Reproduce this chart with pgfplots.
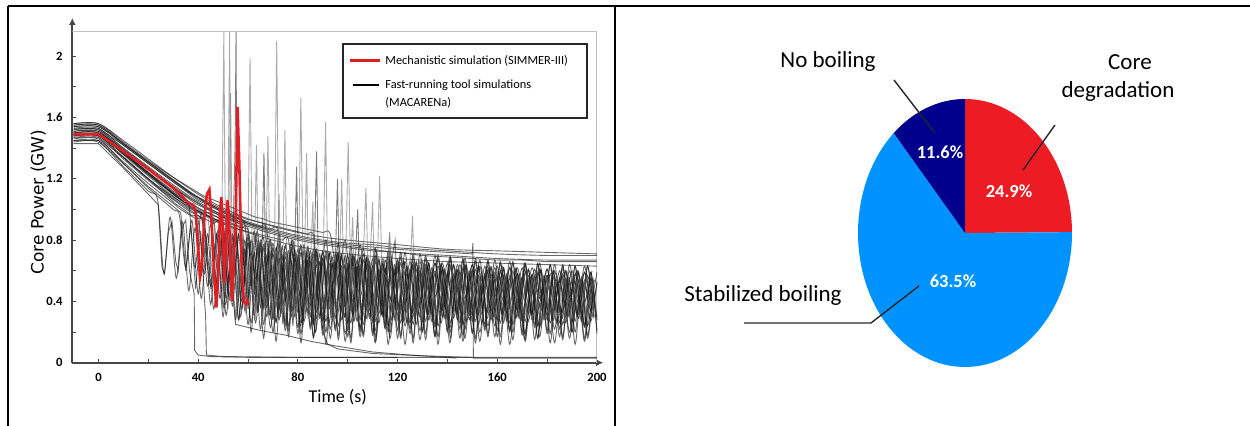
\documentclass[border=0pt]{standalone}
\usepackage{fontspec}
\setmainfont{Carlito}
\newfontfamily\dejavu{DejaVu Sans}
\usepackage{pgfplots}
\pgfplotsset{compat=1.18}
\usepackage{pgfplotstable}
\usetikzlibrary{arrows.meta}

\definecolor{simred}{RGB}{225,30,35}
\definecolor{pieRed}{RGB}{237,28,36}
\definecolor{pieNavy}{RGB}{0,0,140}
\definecolor{pieBlue}{RGB}{0,146,255}
\definecolor{axgray}{RGB}{70,70,70}

\pgfplotsset{
  run/.style={black!90, opacity=0.65, line width=0.45pt, smooth},
  spike/.style={black!55, opacity=0.6, line width=0.45pt},
}

% MACARENa runs, 2.5 s grid
\pgfplotstableread{
t a1 a2 a3 a4 a5 a6
-10 1.46 1.52 1.54 1.48 1.55 1.50
0 1.46 1.52 1.54 1.48 1.55 1.50
10 1.30 1.38 1.42 1.34 1.43 1.37
20 1.14 1.24 1.30 1.20 1.31 1.23
30 1.00 1.10 1.18 1.05 1.19 1.10
32.5 0.96 1.07 1.15 1.02 1.16 1.07
35 0.62 1.04 1.12 0.99 1.13 1.04
37.5 0.93 1.01 1.09 0.96 1.10 1.01
40 0.45 0.99 1.06 0.93 1.08 0.99
42.5 0.88 0.97 1.04 0.58 1.05 0.97
45 0.38 0.95 1.02 0.90 1.03 0.95
47.5 0.84 0.52 1.00 0.49 1.01 0.93
50 0.30 0.90 0.98 0.86 0.99 0.91
52.5 0.80 0.41 0.96 0.44 0.97 0.55
55 0.28 0.86 0.94 0.82 0.95 0.88
57.5 0.76 0.35 0.92 0.40 0.93 0.48
60 0.25 0.82 0.45 0.78 0.91 0.84
62.5 0.72 0.31 0.86 0.37 0.90 0.45
65 0.22 0.78 0.36 0.74 0.89 0.80
67.5 0.70 0.30 0.80 0.36 0.87 0.43
70 0.20 0.75 0.29 0.71 0.48 0.78
72.5 0.68 0.28 0.77 0.35 0.84 0.42
75 0.24 0.72 0.26 0.69 0.40 0.76
77.5 0.66 0.30 0.75 0.34 0.80 0.44
80 0.19 0.70 0.23 0.68 0.33 0.74
82.5 0.67 0.27 0.73 0.36 0.77 0.41
85 0.22 0.69 0.24 0.66 0.30 0.73
87.5 0.64 0.29 0.72 0.33 0.74 0.43
90 0.18 0.68 0.22 0.65 0.27 0.72
92.5 0.65 0.26 0.71 0.35 0.72 0.40
95 0.21 0.66 0.23 0.64 0.29 0.71
97.5 0.63 0.28 0.70 0.34 0.71 0.42
100 0.17 0.65 0.21 0.63 0.26 0.70
102.5 0.62 0.27 0.69 0.33 0.70 0.41
105 0.20 0.64 0.22 0.62 0.28 0.69
107.5 0.64 0.29 0.68 0.35 0.69 0.39
110 0.18 0.63 0.20 0.61 0.27 0.68
112.5 0.61 0.26 0.67 0.32 0.68 0.41
115 0.22 0.62 0.23 0.61 0.25 0.67
117.5 0.62 0.28 0.67 0.34 0.67 0.40
120 0.16 0.62 0.21 0.60 0.28 0.67
122.5 0.60 0.27 0.66 0.33 0.66 0.42
125 0.19 0.61 0.22 0.59 0.26 0.66
127.5 0.61 0.25 0.65 0.35 0.66 0.40
130 0.21 0.60 0.20 0.59 0.27 0.66
132.5 0.59 0.28 0.65 0.32 0.65 0.39
135 0.17 0.60 0.23 0.58 0.25 0.65
137.5 0.60 0.26 0.64 0.34 0.65 0.41
140 0.20 0.59 0.21 0.58 0.28 0.65
142.5 0.58 0.29 0.64 0.33 0.64 0.40
145 0.16 0.59 0.22 0.57 0.26 0.64
147.5 0.59 0.27 0.63 0.35 0.64 0.42
150 0.19 0.58 0.20 0.57 0.27 0.64
152.5 0.57 0.25 0.63 0.32 0.63 0.39
155 0.21 0.58 0.23 0.56 0.25 0.63
157.5 0.58 0.28 0.62 0.34 0.63 0.41
160 0.17 0.57 0.21 0.56 0.28 0.63
162.5 0.57 0.26 0.62 0.33 0.62 0.40
165 0.20 0.57 0.22 0.55 0.26 0.62
167.5 0.56 0.29 0.61 0.35 0.62 0.42
170 0.18 0.56 0.20 0.55 0.27 0.62
172.5 0.57 0.27 0.61 0.32 0.61 0.39
175 0.15 0.56 0.23 0.54 0.25 0.61
177.5 0.55 0.25 0.60 0.34 0.61 0.41
180 0.19 0.55 0.21 0.54 0.28 0.61
182.5 0.56 0.28 0.60 0.33 0.60 0.40
185 0.17 0.55 0.22 0.53 0.26 0.60
187.5 0.55 0.26 0.60 0.35 0.60 0.42
190 0.20 0.54 0.20 0.53 0.27 0.60
192.5 0.54 0.29 0.59 0.32 0.60 0.39
195 0.16 0.54 0.23 0.52 0.25 0.59
197.5 0.55 0.27 0.59 0.34 0.59 0.41
200 0.19 0.53 0.21 0.52 0.28 0.59
}\runsA

% runs on the shifted grid
\pgfplotstableread{
t b1 b2 b3 b4 b5 b6
-10 1.44 1.51 1.53 1.55 1.47 1.49
0 1.44 1.51 1.53 1.55 1.47 1.49
10 1.28 1.37 1.40 1.43 1.33 1.36
20 1.12 1.23 1.27 1.31 1.19 1.22
23.75 1.06 1.18 1.22 1.27 1.14 1.17
26.25 0.58 1.15 1.19 1.24 1.11 1.13
28.75 0.95 1.12 1.16 1.21 1.08 1.10
31.25 0.55 1.09 1.13 1.18 1.05 1.07
33.75 0.92 1.06 1.10 1.15 1.02 1.04
36.25 0.47 1.03 1.07 1.12 0.99 1.01
38.75 0.88 0.62 1.04 1.09 0.97 0.99
41.25 0.42 0.98 1.02 1.07 0.95 0.97
43.75 0.84 0.50 1.00 1.05 0.93 0.95
46.25 0.35 0.93 0.98 1.03 0.91 0.93
48.75 0.80 0.42 0.96 1.01 0.89 0.91
51.25 0.31 0.88 0.94 0.99 0.42 0.90
53.75 0.77 0.37 0.93 0.97 0.84 0.88
56.25 0.28 0.84 0.91 0.96 0.28 0.87
58.75 0.74 0.34 0.90 0.94 0.80 0.86
61.25 0.26 0.80 0.50 0.93 0.20 0.85
63.75 0.72 0.33 0.86 0.92 0.76 0.84
66.25 0.25 0.77 0.35 0.91 0.16 0.83
68.75 0.70 0.31 0.80 0.90 0.73 0.82
71.25 0.27 0.75 0.26 0.89 0.14 0.81
73.75 0.69 0.32 0.76 0.88 0.70 0.80
76.25 0.24 0.73 0.21 0.87 0.17 0.80
78.75 0.68 0.30 0.74 0.86 0.68 0.45
81.25 0.26 0.72 0.19 0.85 0.13 0.77
83.75 0.67 0.33 0.72 0.84 0.67 0.34
86.25 0.25 0.71 0.17 0.83 0.16 0.74
88.75 0.66 0.31 0.71 0.52 0.65 0.29
91.25 0.27 0.70 0.20 0.80 0.12 0.73
93.75 0.65 0.32 0.69 0.42 0.64 0.28
96.25 0.24 0.69 0.18 0.78 0.15 0.72
98.75 0.64 0.30 0.68 0.37 0.63 0.30
101.25 0.26 0.68 0.16 0.76 0.13 0.71
103.75 0.63 0.33 0.67 0.36 0.62 0.27
106.25 0.25 0.67 0.19 0.75 0.17 0.71
108.75 0.63 0.31 0.66 0.34 0.61 0.29
111.25 0.27 0.66 0.17 0.74 0.14 0.70
113.75 0.62 0.32 0.65 0.37 0.60 0.31
116.25 0.24 0.66 0.20 0.73 0.12 0.70
118.75 0.61 0.30 0.64 0.35 0.59 0.28
121.25 0.26 0.65 0.18 0.72 0.16 0.69
123.75 0.61 0.33 0.63 0.33 0.58 0.26
126.25 0.25 0.64 0.16 0.71 0.13 0.69
128.75 0.60 0.31 0.63 0.36 0.58 0.30
131.25 0.27 0.64 0.19 0.70 0.15 0.68
133.75 0.59 0.32 0.62 0.34 0.57 0.27
136.25 0.24 0.63 0.17 0.70 0.12 0.68
138.75 0.59 0.30 0.61 0.37 0.56 0.29
141.25 0.26 0.62 0.20 0.69 0.16 0.67
143.75 0.58 0.33 0.61 0.35 0.56 0.31
146.25 0.25 0.62 0.18 0.68 0.14 0.67
148.75 0.58 0.31 0.60 0.33 0.55 0.28
151.25 0.27 0.61 0.16 0.68 0.13 0.66
153.75 0.57 0.32 0.59 0.36 0.55 0.26
156.25 0.24 0.61 0.19 0.67 0.17 0.66
158.75 0.57 0.30 0.59 0.34 0.54 0.30
161.25 0.26 0.60 0.17 0.66 0.12 0.65
163.75 0.56 0.33 0.58 0.37 0.54 0.27
166.25 0.25 0.60 0.20 0.66 0.15 0.65
168.75 0.56 0.31 0.58 0.35 0.53 0.29
171.25 0.27 0.59 0.18 0.65 0.14 0.64
173.75 0.55 0.32 0.57 0.33 0.53 0.31
176.25 0.24 0.59 0.16 0.65 0.16 0.64
178.75 0.55 0.30 0.57 0.36 0.52 0.28
181.25 0.26 0.58 0.19 0.64 0.13 0.64
183.75 0.55 0.33 0.56 0.34 0.52 0.26
186.25 0.25 0.58 0.17 0.64 0.15 0.63
188.75 0.54 0.31 0.56 0.37 0.52 0.30
191.25 0.27 0.58 0.20 0.63 0.12 0.63
193.75 0.54 0.32 0.56 0.35 0.51 0.27
196.25 0.24 0.57 0.18 0.63 0.16 0.63
198.75 0.54 0.30 0.55 0.33 0.51 0.29
}\runsB

% runs on a 3 s grid
\pgfplotstableread{
t c1 c2 c3 c4 c5
-10 1.45 1.50 1.52 1.56 1.48
0 1.45 1.50 1.52 1.56 1.48
10 1.31 1.37 1.39 1.44 1.34
20 1.17 1.24 1.26 1.32 1.20
30 1.04 1.11 1.14 1.21 1.08
33 1.00 1.08 1.11 1.18 1.05
36 0.97 1.05 1.08 1.15 1.02
39 0.94 1.02 1.05 1.12 0.99
42 0.91 0.99 1.02 1.09 0.97
45 0.50 0.97 1.00 1.07 0.95
48 0.86 0.95 0.98 1.05 0.93
51 0.38 0.93 0.96 1.03 0.91
54 0.82 0.55 0.94 1.01 0.90
57 0.30 0.88 0.92 0.99 0.88
60 0.78 0.42 0.91 0.97 0.87
63 0.26 0.83 0.89 0.95 0.55
66 0.75 0.36 0.88 0.94 0.82
69 0.23 0.80 0.87 0.92 0.45
72 0.73 0.33 0.86 0.91 0.78
75 0.21 0.77 0.45 0.90 0.41
78 0.71 0.34 0.80 0.89 0.76
81 0.24 0.75 0.30 0.88 0.43
84 0.70 0.32 0.76 0.87 0.74
87 0.20 0.73 0.20 0.86 0.40
90 0.68 0.35 0.73 0.85 0.72
93 0.22 0.72 0.16 0.84 0.42
96 0.67 0.33 0.71 0.55 0.71
99 0.19 0.70 0.14 0.80 0.39
102 0.66 0.31 0.69 0.40 0.70
105 0.23 0.69 0.17 0.77 0.43
108 0.65 0.34 0.68 0.33 0.69
111 0.21 0.68 0.13 0.75 0.40
114 0.64 0.32 0.66 0.30 0.68
117 0.20 0.67 0.16 0.73 0.42
120 0.63 0.35 0.65 0.31 0.67
123 0.24 0.66 0.12 0.72 0.38
126 0.62 0.33 0.64 0.29 0.66
129 0.21 0.66 0.15 0.71 0.41
132 0.62 0.31 0.63 0.32 0.66
135 0.19 0.65 0.17 0.70 0.43
138 0.61 0.34 0.62 0.30 0.65
141 0.23 0.64 0.13 0.69 0.39
144 0.60 0.32 0.61 0.28 0.64
147 0.22 0.64 0.16 0.68 0.42
150 0.60 0.35 0.61 0.31 0.64
153 0.20 0.63 0.14 0.67 0.40
156 0.59 0.33 0.60 0.29 0.63
159 0.24 0.62 0.17 0.67 0.43
162 0.58 0.31 0.59 0.32 0.63
165 0.21 0.62 0.12 0.66 0.38
168 0.58 0.34 0.58 0.30 0.62
171 0.19 0.61 0.15 0.65 0.41
174 0.57 0.32 0.58 0.28 0.62
177 0.23 0.61 0.17 0.65 0.42
180 0.57 0.35 0.57 0.31 0.61
183 0.22 0.60 0.13 0.64 0.39
186 0.56 0.33 0.57 0.29 0.61
189 0.20 0.60 0.16 0.64 0.43
192 0.56 0.31 0.56 0.32 0.60
195 0.24 0.59 0.14 0.63 0.40
198 0.55 0.34 0.56 0.30 0.60
}\runsC

% pie shares (%)
\def\pCore{24.9}
\def\pStab{63.5}
\def\pNone{11.6}
\pgfmathsetmacro\angA{90-3.6*\pCore}
\pgfmathsetmacro\angB{\angA-3.6*\pStab}
\pgfmathsetmacro\angC{\angB-3.6*\pNone}

\begin{document}
\begin{tikzpicture}[x=0.5pt,y=0.5pt]

% table frame
\draw[line width=1pt] (8,420) -- (1250,420);
\draw[line width=1pt] (8,420) -- (8,0);
\draw[line width=0.6pt] (615,420) -- (615,0);
\draw[line width=1.2pt] (615,18) -- (615,0);

\begin{axis}[
  at={(36.15pt,31.65pt)}, anchor=south west,
  scale only axis, width=265.45pt, height=172.35pt,
  xmin=-10.5, xmax=202.5, ymin=0, ymax=2.25,
  axis x line=bottom, axis y line=left,
  axis line style={axgray, line width=0.9pt, -{Latex[length=3.5pt,width=3.5pt]}},
  tick align=inside, major tick length=2pt, minor tick length=2pt,
  tick style={axgray, line width=0.5pt},
  xtick={0,40,80,120,160,200}, minor xtick={20,60,100,140,180},
  ytick={0,0.4,0.8,1.2,1.6,2}, minor ytick={0.2,0.6,1,1.4,1.8},
  /pgf/number format/assume math mode=true,
  tick label style={font=\fontsize{6.3}{7}\selectfont\bfseries},
  xticklabel style={yshift=-1.5pt},
  yticklabel style={xshift=-1.3pt},
  xlabel={Time (s)},
  ylabel={Core Power (GW)},
  x label style={at={(axis description cs:0.5,0)}, anchor=center, yshift=-17.2pt,
    font=\fontsize{9}{10}\selectfont},
  y label style={at={(axis description cs:0,0.466)}, anchor=center, yshift=17pt,
    font=\dejavu\fontsize{8.5}{10}\selectfont},
]
\draw[black!25, line width=0.5pt] (axis cs:-10.5,2.16) -- (axis cs:200,2.16) -- (axis cs:200,0);

\pgfplotsinvokeforeach{a1,a2,a3,a4,a5,a6}{\addplot[run] table[x=t,y=#1]{\runsA};}
\pgfplotsinvokeforeach{b1,b2,b3,b4,b5,b6}{\addplot[run] table[x=t,y=#1]{\runsB};}
\pgfplotsinvokeforeach{c1,c2,c3,c4,c5}{\addplot[run] table[x=t,y=#1]{\runsC};}

% runs that stay smooth
\addplot[run] coordinates {(-10,1.56)(0,1.56)(10,1.45)(20,1.33)(30,1.21)(40,1.10)(50,1.01)(60,0.94)(70,0.89)(80,0.85)(90,0.82)(100,0.80)(120,0.77)(140,0.74)(160,0.73)(180,0.72)(200,0.71)};
\addplot[run, sharp plot] coordinates {(-10,1.53)(0,1.53)(10,1.42)(20,1.30)(30,1.18)(40,1.07)(50,0.98)(60,0.91)(70,0.86)(80,0.82)(90,0.79)(100,0.77)(120,0.74)(140,0.72)(150,0.71)(150.2,0.78)(150.4,0.03)(200,0.03)};
\addplot[run] coordinates {(-10,1.50)(0,1.50)(10,1.39)(20,1.27)(30,1.15)(40,1.04)(50,0.95)(60,0.89)(70,0.84)(80,0.80)(90,0.77)(100,0.75)(110,0.73)(120,0.72)(130,0.70)(140,0.69)(150,0.68)(160,0.67)(170,0.67)(180,0.66)(190,0.66)(200,0.66)};
\addplot[run] coordinates {(-10,1.48)(0,1.48)(10,1.36)(20,1.23)(30,1.10)(40,0.99)(50,0.91)(60,0.85)(70,0.80)(80,0.76)(90,0.73)(100,0.71)(120,0.68)(140,0.66)(160,0.65)(180,0.64)(200,0.63)};
\addplot[run] coordinates {(-10,1.54)(0,1.54)(10,1.43)(20,1.31)(30,1.19)(40,1.08)(50,0.99)(60,0.92)(70,0.87)(80,0.83)(90,0.80)(100,0.78)(110,0.77)(120,0.75)(130,0.74)(140,0.73)(160,0.71)(180,0.70)(200,0.70)};
\addplot[run] coordinates {(-10,1.51)(0,1.51)(10,1.40)(20,1.28)(30,1.16)(40,1.05)(50,0.96)(60,0.90)(70,0.85)(80,0.81)(90,0.78)(100,0.76)(120,0.72)(140,0.70)(160,0.68)(180,0.67)(200,0.67)};

% runs that collapse to low power
\addplot[run, sharp plot] coordinates {(-10,1.43)(0,1.43)(10,1.27)(20,1.10)(24,1.03)(25.5,0.62)(26.5,0.58)(28,0.85)(29.5,0.92)(31,0.66)(32,0.60)(33.5,0.88)(35,0.93)(36.5,0.60)(37.5,0.52)(38.4,0.45)(38.6,0.08)(40,0.05)(45,0.04)(60,0.035)(200,0.035)};
\addplot[run, sharp plot] coordinates {(-10,1.45)(0,1.45)(10,1.30)(20,1.15)(30,1.02)(33,0.98)(35,0.60)(37,0.90)(39,0.48)(41,0.86)(42.5,0.42)(43,0.30)(43.3,0.05)(50,0.04)(80,0.035)(120,0.035)};
\addplot[run, sharp plot] coordinates {(-10,1.47)(0,1.47)(10,1.34)(20,1.20)(30,1.07)(40,0.96)(42.5,0.93)(45,0.50)(47.5,0.85)(50,0.35)(52.5,0.78)(55,0.25)(65,0.21)(75,0.18)(85,0.14)(95,0.11)(110,0.07)(125,0.05)(143.6,0.03)};
\addplot[run, sharp plot] coordinates {(-10,1.49)(0,1.49)(10,1.37)(20,1.24)(30,1.12)(40,1.01)(50,0.93)(60,0.87)(62,0.50)(64,0.80)(66,0.35)(68,0.75)(70,0.28)(72,0.72)(74,0.25)(76,0.70)(78,0.24)(80,0.68)(82,0.23)(84,0.67)(86,0.25)(88,0.62)(90,0.20)(92,0.12)(96,0.09)(110,0.06)(130,0.045)(150,0.035)};

% runs with strong power bursts
\addplot[spike] coordinates {(-10,1.50)(0,1.50)(10,1.38)(20,1.25)(30,1.12)(40,1.01)(45,0.97)(48,0.55)(49.5,0.90)(50.3,2.16)(51,0.60)(52,0.35)(54,0.70)(56,0.40)(58,0.75)(59.8,0.50)(60.8,1.99)(61.8,0.45)(63,0.30)(65,0.72)(67,0.32)(69,0.70)(70.5,0.55)(71.5,2.10)(72.5,0.50)(74,0.30)(76,0.70)(78,0.30)(80.2,0.60)(81.2,1.73)(82.2,0.50)(84,0.30)(86,0.68)(88,0.28)(90.1,0.60)(91.1,1.57)(92.1,0.50)(94,0.28)(96,0.66)(98,0.30)(99.2,0.70)(100.2,1.44)(101.2,0.55)(103,0.28)(105,0.65)(106.5,0.80)(107.3,1.14)(108.3,0.50)(110,0.28)(112,0.70)(112.8,1.22)(113.8,0.55)(115,0.30)(116.8,0.85)(118,0.40)(120,0.28)(122,0.64)(124,0.30)(125.3,0.70)(126,0.96)(126.8,0.50)(128,0.30)(130,0.62)(133,0.28)(136,0.62)(139,0.30)(142,0.60)(145,0.28)(148,0.60)(151,0.30)(154,0.60)(157,0.29)(160,0.59)(163,0.30)(166,0.58)(169,0.30)(172,0.58)(175,0.29)(178,0.57)(181,0.30)(184,0.57)(187,0.29)(190,0.56)(193,0.30)(196,0.56)(199,0.30)};
\addplot[spike] coordinates {(-10,1.52)(0,1.52)(10,1.40)(20,1.27)(30,1.15)(40,1.04)(46,0.98)(48,0.60)(50,0.92)(51.8,0.60)(52.6,2.16)(53.4,0.45)(55,0.32)(57,0.72)(59,0.34)(61,0.70)(63,0.33)(65,0.68)(67.2,0.70)(68,1.48)(68.8,0.60)(70,0.33)(72,0.60)(74,0.70)(74.8,1.52)(75.6,0.55)(77,0.30)(79,0.66)(81,0.30)(82.7,0.70)(83.5,1.37)(84.3,0.50)(86,0.30)(88,0.65)(90,0.29)(92,0.64)(94,0.30)(96.8,0.70)(97.6,1.20)(98.4,0.50)(100,0.30)(102,0.63)(104,0.29)(106,0.62)(108,0.30)(110,0.62)(112,0.29)(114,0.60)(116,0.55)(116.8,0.85)(117.6,0.45)(119,0.29)(121,0.60)(124,0.30)(127,0.60)(130,0.29)(133,0.59)(136,0.30)(139,0.58)(142,0.29)(145,0.58)(148,0.30)(151,0.57)(154,0.29)(157,0.57)(160,0.30)(163,0.56)(166,0.29)(169,0.56)(172,0.30)(175,0.55)(178,0.29)(181,0.55)(184,0.30)(187,0.55)(190,0.29)(193,0.54)(196,0.30)(199,0.54)};
\addplot[spike, black!85] coordinates {(-10,1.49)(0,1.49)(10,1.37)(20,1.24)(30,1.11)(40,1.00)(45,0.95)(48,0.55)(50,0.88)(52,0.45)(54,0.85)(54.8,1.40)(55.2,2.16)(55.6,0.60)(56.2,0.40)(58,0.75)(60,0.35)(62,0.72)(64,0.33)(65.6,0.70)(66.4,1.37)(67.2,0.50)(69,0.30)(71,0.68)(73,0.30)(75,0.66)(77,0.30)(78.7,0.70)(79.5,1.28)(80.3,0.50)(82,0.28)(84,0.65)(86,0.30)(86.7,0.80)(87.5,1.38)(88.3,0.50)(90,0.28)(92,0.64)(94,0.30)(95.1,0.70)(95.9,1.20)(96.7,0.50)(98,0.28)(100,0.62)(102,0.30)(104,1.00)(105,0.40)(107,0.28)(109,0.62)(111,0.30)(113,0.60)(115,0.28)(117,0.60)(119,0.80)(120,0.40)(122,0.28)(125,0.60)(128,0.30)(131,0.60)(134,0.28)(137,0.59)(140,0.30)(143,0.58)(146,0.28)(149,0.58)(152,0.30)(155,0.57)(158,0.28)(161,0.57)(164,0.30)(167,0.56)(170,0.28)(173,0.56)(176,0.30)(179,0.55)(182,0.28)(185,0.55)(188,0.30)(191,0.54)(194,0.28)(197,0.54)(200,0.30)};
\addplot[spike] coordinates {(-10,1.47)(0,1.47)(10,1.35)(20,1.22)(30,1.09)(40,0.98)(44,0.95)(46,0.50)(48,0.90)(50,0.42)(52.2,0.85)(53,1.76)(53.8,0.50)(55,0.30)(57,0.70)(59,0.32)(61,0.68)(62.6,0.75)(63.4,1.42)(64.2,0.50)(66,0.30)(68,0.66)(70,0.30)(71.8,0.70)(72.5,1.10)(73.3,0.50)(75,0.28)(77,0.65)(79,0.30)(81,0.64)(83,0.29)(85.2,0.70)(86,1.05)(86.8,0.45)(88,0.28)(90,0.63)(92,0.30)(94,0.62)(96,0.29)(98,0.62)(100,0.30)(101.3,0.70)(102,0.95)(102.8,0.45)(104,0.30)(106,0.61)(108,0.29)(109.3,0.80)(110,1.05)(110.8,0.40)(112,0.29)(114,0.60)(117,0.30)(120,0.60)(123,0.29)(126,0.59)(129,0.30)(132,0.59)(135,0.29)(138,0.58)(141,0.30)(144,0.58)(147,0.29)(150,0.57)(153,0.30)(156,0.57)(159,0.29)(162,0.56)(165,0.30)(168,0.56)(171,0.29)(174,0.55)(177,0.30)(180,0.55)(183,0.29)(186,0.55)(189,0.30)(192,0.54)(195,0.29)(198,0.54)};

% SIMMER-III
\addplot[simred, line width=1.3pt] coordinates {(-10,1.49)(0,1.49)(2,1.47)(10,1.38)(20,1.265)(30,1.14)(34,1.08)(36,1.04)(38,1.03)(39,0.98)(40,0.75)(40.8,0.56)(41.5,0.62)(42.5,0.95)(43.5,1.10)(44.5,1.13)(45.3,0.95)(46.5,0.55)(47.3,0.36)(48,0.55)(48.8,1.00)(49.3,1.08)(50,0.80)(50.5,0.52)(51.2,0.75)(51.8,1.06)(52.4,0.95)(53,0.60)(53.5,0.40)(55,0.90)(55.8,1.67)(56.5,1.30)(57.5,0.60)(58.3,0.40)(59.3,0.38)(60,0.42)};
\end{axis}

% legend of the left panel
\filldraw[fill=white, draw=black!85, line width=0.7pt] (343,308) rectangle (587,382);
\draw[simred, line width=1.5pt] (350,365) -- (380,365);
\draw[black, line width=0.6pt] (353,341) -- (379,341);
\begin{scope}[every node/.style={anchor=west, inner sep=0pt, font=\fontsize{6.2}{7.5}\selectfont}]
\node at (385,365) {Mechanistic simulation (SIMMER-III)};
\node at (385,341) {Fast-running tool simulations};
\node at (385,323) {(MACARENa)};
\end{scope}

% pie of the outcomes
\begin{axis}[
  at={(482.5pt,96.5pt)}, anchor=center,
  scale only axis, width=107pt, height=134pt,
  hide axis, xmin=-1, xmax=1, ymin=-1, ymax=1, clip=false,
]
\fill[pieRed] (axis cs:0,0) -- (axis cs:0,1) arc[start angle=90, end angle=\angA, x radius=53.5pt, y radius=67pt] -- cycle;
\fill[pieBlue] (axis cs:0,0) -- (axis cs:{cos(\angA)},{sin(\angA)}) arc[start angle=\angA, end angle=\angB, x radius=53.5pt, y radius=67pt] -- cycle;
\fill[pieNavy] (axis cs:0,0) -- (axis cs:{cos(\angB)},{sin(\angB)}) arc[start angle=\angB, end angle=\angC, x radius=53.5pt, y radius=67pt] -- cycle;
\end{axis}

% leader lines and labels
\draw[black!85, line width=0.7pt] (894,346) -- (934,294);
\draw[black!85, line width=0.7pt] (1055,301) -- (1023,256);
\draw[black!85, line width=0.7pt] (744,103) -- (871,103) -- (919,140);
\begin{scope}[every node/.style={inner sep=0pt, font=\fontsize{11.5}{13}\selectfont}]
\node at (828,364) {No boiling};
\node at (1130,364) {Core};
\node at (1118,334) {degradation};
\node at (763,130) {Stabilized boiling};
\end{scope}
\begin{scope}[every node/.style={inner sep=0pt, text=white, font=\fontsize{9.2}{11}\selectfont\bfseries}]
\node at (940,274) {\pNone\%};
\node at (1009,235) {\pCore\%};
\node at (953,145) {\pStab\%};
\end{scope}

\pgfresetboundingbox
\path[use as bounding box] (0,0) rectangle (1250,426);
\end{tikzpicture}
\end{document}
